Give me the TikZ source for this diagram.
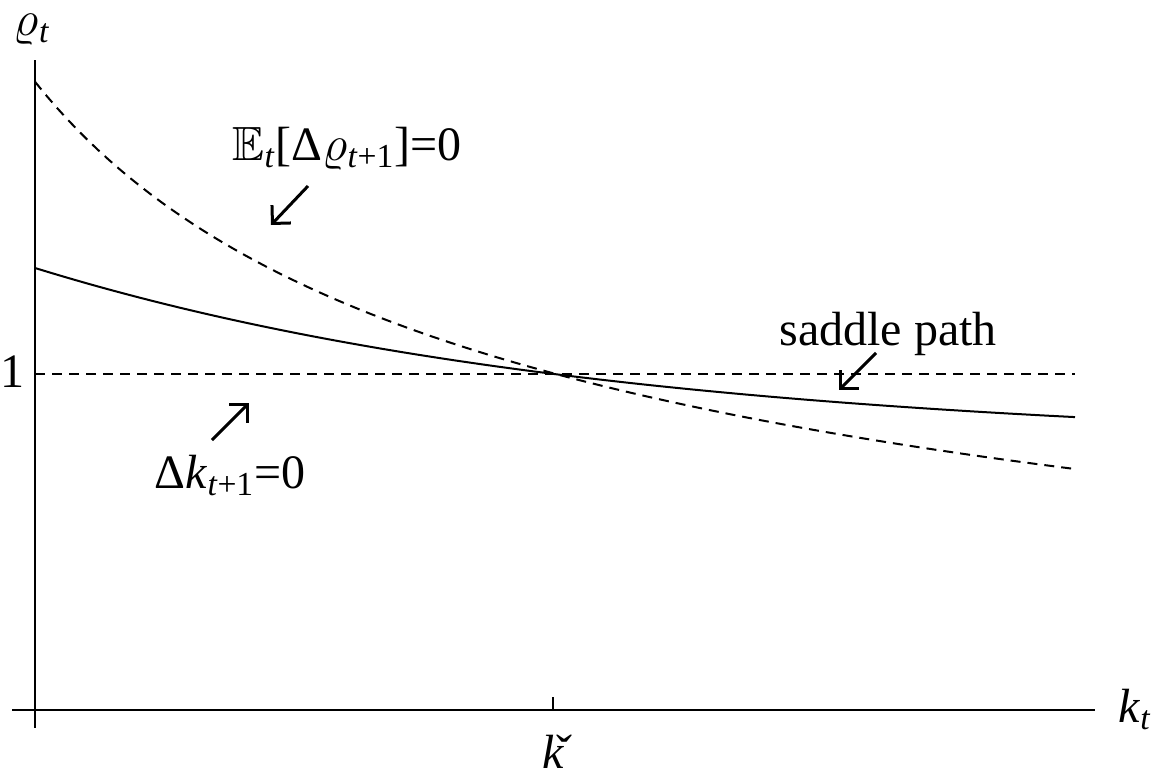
\documentclass[tikz,border=0pt]{standalone}
\usepackage{fontspec}
\usepackage{amssymb}
\setmainfont{Liberation Serif}
\usetikzlibrary{arrows.meta}

\begin{document}
\begin{tikzpicture}[x=0.5pt,y=-0.5pt,>={Straight Barb[length=6.5pt,width=13pt]},font=\fontsize{24}{28}\selectfont]
\tikzstyle{ax}=[line width=1pt]
\tikzstyle{dsh}=[line width=1pt,dash pattern=on 5pt off 3.5pt]
\tikzstyle{lbl}=[inner sep=0pt,anchor=base]
\tikzstyle{pt}=[line width=1.5pt,->]
\useasboundingbox (0,0) rectangle (1163,776);
% axes
\draw[ax] (12,710) -- (1095,710);
\draw[ax] (35,60) -- (35,728);
\draw[ax] (553,710) -- (553,697);
\node[lbl] (rho) at (32,35) {$\varrho$\textsubscript{\textit{t}}};
\node[lbl] (one) at (12,387) {1};
\node[lbl,anchor=base west] (kt) at (1118,722) {\textit{k}\textsubscript{\textit{t}}};
\node[lbl] (kc) at (553,768) {\v{\textit{k}}};
% curves
\draw[dsh] (35,374) -- (1075,374);
\draw[dsh] plot[domain=35:1075,samples=100] (\x,{807-12319/sqrt(\x-35+288.5)});
\draw[line width=1pt] plot[domain=35:1075,samples=80] (\x,{446.3-178.3*exp(-0.001743*(\x-35))});
% labels
\node[lbl] (el) at (347,160) {$\mathbb{E}$\textsubscript{\textit{t}}[Δ$\varrho$\textsubscript{\textit{t}+1}]=0};
\node[lbl] (dk) at (230,488) {Δ\textit{k}\textsubscript{\textit{t}+1}=0};
\node[lbl] (sp) at (888,345) {saddle path};
\coordinate (e1) at (308,186); \coordinate (e2) at (271,225);
\coordinate (d1) at (212,440); \coordinate (d2) at (249,403);
\coordinate (s1) at (876,353); \coordinate (s2) at (839,390);
\draw[pt] (e1) -- (e2);
\draw[pt] (d1) -- (d2);
\draw[pt] (s1) -- (s2);
\end{tikzpicture}
\end{document}
